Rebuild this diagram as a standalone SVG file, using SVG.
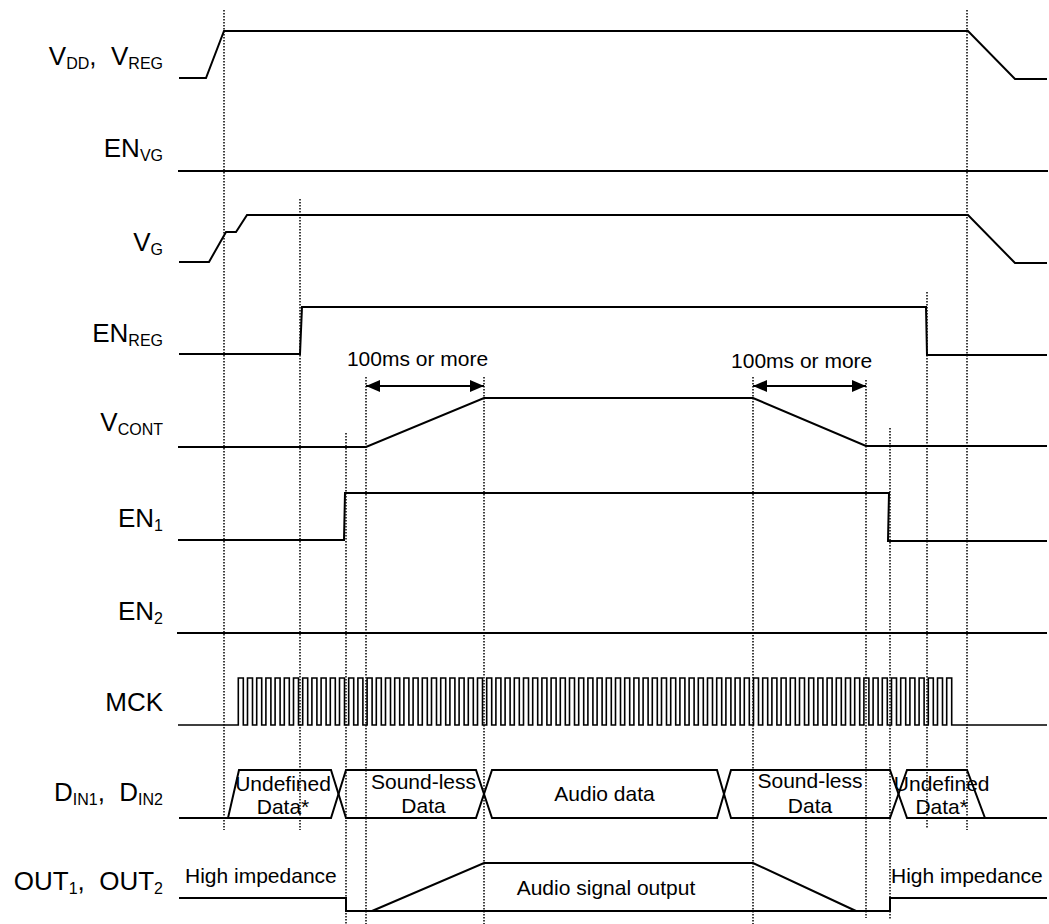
<svg xmlns="http://www.w3.org/2000/svg" width="1049" height="924" viewBox="0 0 1049 924">
<style>
.sig{fill:none;stroke:#000;stroke-width:2;stroke-linejoin:miter}
.clk{fill:none;stroke:#000;stroke-width:1.6}
.dot{stroke:#000;stroke-width:1.5;stroke-dasharray:1.5 1.5;fill:none}
.arr{stroke:#000;stroke-width:2;fill:none}
.lbl{font-family:"Liberation Sans",Arial,sans-serif;font-size:26px;text-anchor:end;fill:#000}
.sub{font-size:16px}
.t{font-family:"Liberation Sans",Arial,sans-serif;font-size:21px;text-anchor:middle;fill:#000}
.ts{font-family:"Liberation Sans",Arial,sans-serif;font-size:21px;text-anchor:start;fill:#000}
</style>
<defs>
<marker id="ah" viewBox="0 0 14 12" refX="14" refY="6" markerWidth="14" markerHeight="12" markerUnits="userSpaceOnUse" orient="auto-start-reverse">
<path d="M0,0 L14,6 L0,12 z" fill="#000"/>
</marker>
</defs>
<rect width="1049" height="924" fill="#fff"/>

<g id="guides">
<line class="dot" x1="224" y1="10" x2="224" y2="830"/>
<line class="dot" x1="300" y1="199" x2="300" y2="830"/>
<line class="dot" x1="346" y1="433" x2="346" y2="924"/>
<line class="dot" x1="366" y1="377" x2="366" y2="924"/>
<line class="dot" x1="484" y1="377" x2="484" y2="924"/>
<line class="dot" x1="753" y1="377" x2="753" y2="924"/>
<line class="dot" x1="866" y1="380" x2="866" y2="918"/>
<line class="dot" x1="890" y1="428" x2="890" y2="920"/>
<line class="dot" x1="927" y1="292" x2="927" y2="828"/>
<line class="dot" x1="967" y1="10" x2="967" y2="830"/>
</g>

<g id="vdd">
<text class="lbl" x="163" y="65">V<tspan class="sub" dy="4">DD</tspan><tspan dy="-4">,&#160; V</tspan><tspan class="sub" dy="4">REG</tspan></text>
<path class="sig" d="M179,78 H206 L224,31 H968 L1015,79 H1047"/>
</g>

<g id="envg">
<text class="lbl" x="163" y="157">EN<tspan class="sub" dy="4">VG</tspan></text>
<path class="sig" d="M178,171 H1048"/>
</g>

<g id="vg">
<text class="lbl" x="163" y="251">V<tspan class="sub" dy="4">G</tspan></text>
<path class="sig" d="M179,262 H209 L226,232 H236 L247,215 H968 L1015,263 H1047"/>
</g>

<g id="enreg">
<text class="lbl" x="163" y="342">EN<tspan class="sub" dy="4">REG</tspan></text>
<path class="sig" d="M179,354 H300 L302,307 H926 L927,355 H1047"/>
</g>

<g id="vcont">
<text class="lbl" x="163" y="431">V<tspan class="sub" dy="4">CONT</tspan></text>
<path class="sig" d="M178,447 H366 L484,398 H753 L866,446 H1047"/>
</g>

<g id="en1">
<text class="lbl" x="163" y="527">EN<tspan class="sub" dy="4">1</tspan></text>
<path class="sig" d="M178,540 H344 L345,493 H889 L888,541 H1047"/>
</g>

<g id="en2">
<text class="lbl" x="163" y="620">EN<tspan class="sub" dy="4">2</tspan></text>
<path class="sig" d="M177,633 H1047"/>
</g>

<g id="mck">
<text class="lbl" x="163" y="711">MCK</text>
<path class="clk" d="M178,725 H238.3
v-47h5v47h4.2v-47h5v47h4.2v-47h5v47h4.2v-47h5v47h4.2v-47h5v47h4.2v-47h5v47h4.2v-47h5v47h4.2v-47h5v47h4.2v-47h5v47h4.2v-47h5v47h4.2
v-47h5v47h4.2v-47h5v47h4.2v-47h5v47h4.2v-47h5v47h4.2v-47h5v47h4.2v-47h5v47h4.2v-47h5v47h4.2v-47h5v47h4.2v-47h5v47h4.2v-47h5v47h4.2
v-47h5v47h4.2v-47h5v47h4.2v-47h5v47h4.2v-47h5v47h4.2v-47h5v47h4.2v-47h5v47h4.2v-47h5v47h4.2v-47h5v47h4.2v-47h5v47h4.2v-47h5v47h4.2
v-47h5v47h4.2v-47h5v47h4.2v-47h5v47h4.2v-47h5v47h4.2v-47h5v47h4.2v-47h5v47h4.2v-47h5v47h4.2v-47h5v47h4.2v-47h5v47h4.2v-47h5v47h4.2
v-47h5v47h4.2v-47h5v47h4.2v-47h5v47h4.2v-47h5v47h4.2v-47h5v47h4.2v-47h5v47h4.2v-47h5v47h4.2v-47h5v47h4.2v-47h5v47h4.2v-47h5v47h4.2
v-47h5v47h4.2v-47h5v47h4.2v-47h5v47h4.2v-47h5v47h4.2v-47h5v47h4.2v-47h5v47h4.2v-47h5v47h4.2v-47h5v47h4.2v-47h5v47h4.2v-47h5v47h4.2
v-47h5v47h4.2v-47h5v47h4.2v-47h5v47h4.2v-47h5v47h4.2v-47h5v47h4.2v-47h5v47h4.2v-47h5v47h4.2v-47h5v47h4.2v-47h5v47h4.2v-47h5v47h4.2
v-47h5v47h4.2v-47h5v47h4.2v-47h5v47h4.2v-47h5v47h4.2v-47h5v47h4.2v-47h5v47h4.2v-47h5v47h4.2v-47h5v47
H1047"/>
</g>

<g id="din">
<text class="lbl" x="163" y="801">D<tspan class="sub" dy="4">IN1</tspan><tspan dy="-4">,&#160; D</tspan><tspan class="sub" dy="4">IN2</tspan></text>
<path class="sig" d="M179,818 H228 L239,770 H331 L346,818 H476 L492,770 H717 L731,818 H890 L907,770 H967 L985,818 H1047"/>
<path class="sig" d="M228,818 H331 L346,770 H476 L492,818 H717 L731,770 H890 L907,818 H985"/>
<text class="t" x="283" y="791">Undefined</text>
<text class="t" x="283" y="814">Data*</text>
<text class="t" x="423.5" y="789">Sound-less</text>
<text class="t" x="423.5" y="813">Data</text>
<text class="t" x="604.5" y="801">Audio data</text>
<text class="t" x="810" y="788">Sound-less</text>
<text class="t" x="810" y="813">Data</text>
<text class="t" x="941.7" y="791">Undefined</text>
<text class="t" x="941.7" y="814">Data*</text>
</g>

<g id="out">
<text class="lbl" x="163" y="890">OUT<tspan class="sub" dy="4">1</tspan><tspan dy="-4">,&#160; OUT</tspan><tspan class="sub" dy="4">2</tspan></text>
<path class="sig" d="M179,898 H346 V911 H890 V898 H1047"/>
<path class="sig" d="M372,911 L484,863 H753 L856,911"/>
<text class="ts" x="185" y="883">High impedance</text>
<text class="ts" x="891" y="883">High impedance</text>
<text class="t" x="606" y="895">Audio signal output</text>
</g>

<g id="connectors">
<line class="arr" x1="366" y1="386" x2="484" y2="386" marker-start="url(#ah)" marker-end="url(#ah)"/>
<text class="t" x="417.5" y="366">100ms or more</text>
<line class="arr" x1="753" y1="386" x2="866" y2="386" marker-start="url(#ah)" marker-end="url(#ah)"/>
<text class="t" x="801.7" y="368">100ms or more</text>
</g>
</svg>
